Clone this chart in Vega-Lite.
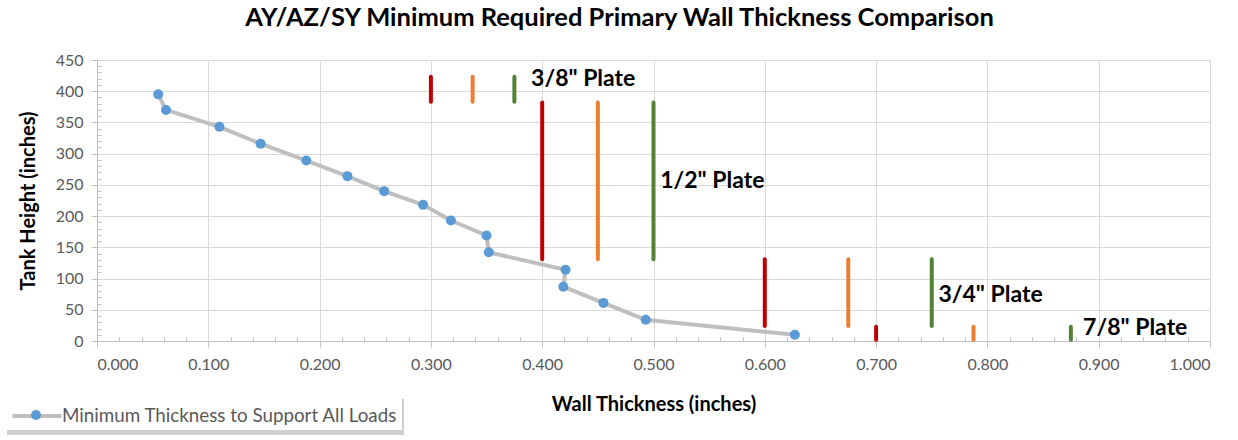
{
  "$schema": "https://vega.github.io/schema/vega-lite/v6.json",
  "width": 1113,
  "height": 281,
  "autosize": {"type": "none"},
  "padding": {"left": 97, "top": 60, "right": 28, "bottom": 99},
  "background": "white",
  "title": {
    "text": "AY/AZ/SY Minimum Required Primary Wall Thickness Comparison",
    "font": "Lato", "fontSize": 25.5, "fontWeight": "bold", "color": "#000000",
    "anchor": "middle", "dx": -34, "offset": 21
  },
  "config": {"view": {"stroke": null}, "font": "Lato"},
  "datasets": {
    "pts": [
      {"i": 1, "t": 0.055, "h": 395},
      {"i": 2, "t": 0.062, "h": 370},
      {"i": 3, "t": 0.110, "h": 343},
      {"i": 4, "t": 0.147, "h": 316},
      {"i": 5, "t": 0.188, "h": 289},
      {"i": 6, "t": 0.225, "h": 264},
      {"i": 7, "t": 0.258, "h": 240},
      {"i": 8, "t": 0.293, "h": 218},
      {"i": 9, "t": 0.318, "h": 193},
      {"i": 10, "t": 0.350, "h": 169},
      {"i": 11, "t": 0.352, "h": 142},
      {"i": 12, "t": 0.421, "h": 114},
      {"i": 13, "t": 0.419, "h": 87},
      {"i": 14, "t": 0.455, "h": 61},
      {"i": 15, "t": 0.493, "h": 34},
      {"i": 16, "t": 0.627, "h": 10}
    ],
    "plates": [
      {"plate": "3/8", "c": "r", "x": 0.3, "lo": 383, "hi": 423},
      {"plate": "3/8", "c": "o", "x": 0.3375, "lo": 383, "hi": 423},
      {"plate": "3/8", "c": "g", "x": 0.375, "lo": 383, "hi": 423},
      {"plate": "1/2", "c": "r", "x": 0.4, "lo": 131, "hi": 382},
      {"plate": "1/2", "c": "o", "x": 0.45, "lo": 131, "hi": 382},
      {"plate": "1/2", "c": "g", "x": 0.5, "lo": 131, "hi": 382},
      {"plate": "3/4", "c": "r", "x": 0.6, "lo": 24, "hi": 131},
      {"plate": "3/4", "c": "o", "x": 0.675, "lo": 24, "hi": 131},
      {"plate": "3/4", "c": "g", "x": 0.75, "lo": 24, "hi": 131},
      {"plate": "7/8", "c": "r", "x": 0.7, "lo": 2, "hi": 23},
      {"plate": "7/8", "c": "o", "x": 0.7875, "lo": 2, "hi": 23},
      {"plate": "7/8", "c": "g", "x": 0.875, "lo": 2, "hi": 23}
    ],
    "labels": [
      {"label": "3/8\" Plate", "x": 0.390, "y": 419},
      {"label": "1/2\" Plate", "x": 0.506, "y": 256},
      {"label": "3/4\" Plate", "x": 0.756, "y": 74},
      {"label": "7/8\" Plate", "x": 0.886, "y": 21}
    ]
  },
  "layer": [
    {
      "data": {"name": "pts"},
      "mark": {"type": "line", "strokeWidth": 4},
      "encoding": {
        "x": {
          "field": "t", "type": "quantitative",
          "scale": {"domain": [0, 1], "nice": false, "zero": true},
          "axis": {
            "orient": "bottom",
            "values": [0, 0.1, 0.2, 0.3, 0.4, 0.5, 0.6, 0.7, 0.8, 0.9, 1.0],
            "format": ".3f",
            "title": "Wall Thickness (inches)",
            "grid": true, "gridColor": "#D9D9D9", "gridWidth": 1,
            "domainColor": "#BFBFBF", "domainWidth": 1,
            "tickColor": "#BFBFBF", "tickSize": 6,
            "labelColor": "#595959", "labelFont": "Lato", "labelFontSize": 16,
            "labelPadding": 9,
            "titleFont": "Lato", "titleFontSize": 20, "titleFontWeight": "bold",
            "titleColor": "#000000", "titlePadding": 22
          }
        },
        "y": {
          "field": "h", "type": "quantitative",
          "scale": {"domain": [0, 450], "nice": false},
          "axis": {
            "orient": "left",
            "values": [0, 50, 100, 150, 200, 250, 300, 350, 400, 450],
            "title": "Tank Height (inches)",
            "grid": true, "gridColor": "#D9D9D9", "gridWidth": 1,
            "domainColor": "#BFBFBF", "domainWidth": 1,
            "tickColor": "#BFBFBF", "tickSize": 6,
            "labelColor": "#595959", "labelFont": "Lato", "labelFontSize": 16,
            "labelPadding": 8,
            "titleFont": "Lato", "titleFontSize": 20, "titleFontWeight": "bold",
            "titleColor": "#000000", "titlePadding": 17
          }
        },
        "order": {"field": "i", "type": "quantitative"},
        "stroke": {
          "datum": "Minimum Thickness to Support All Loads",
          "scale": {"range": ["#BFBFBF"]},
          "legend": {
            "orient": "none", "legendX": -93, "legendY": 336, "zindex": 2,
            "title": null, "symbolType": "M-1.75,0L1.75,0", "symbolSize": 784,
            "symbolOffset": 13, "symbolStrokeWidth": 4,
            "labelFont": "Lato", "labelFontSize": 18.8, "labelLimit": 500,
            "labelColor": "#595959", "labelOffset": 9,
            "fillColor": "white", "padding": 4
          }
        }
      }
    },
    {
      "data": {"name": "pts"},
      "mark": {"type": "point", "filled": true, "size": 100, "opacity": 1},
      "encoding": {
        "x": {
          "field": "t", "type": "quantitative",
          "axis": {
            "orient": "bottom",
            "values": [0.02,0.04,0.06,0.08,0.12,0.14,0.16,0.18,0.22,0.24,0.26,0.28,0.32,0.34,0.36,0.38,0.42,0.44,0.46,0.48,0.52,0.54,0.56,0.58,0.62,0.64,0.66,0.68,0.72,0.74,0.76,0.78,0.82,0.84,0.86,0.88,0.92,0.94,0.96,0.98],
            "labels": false, "title": null, "grid": false, "domain": false,
            "tickColor": "#BFBFBF", "tickSize": -4
          }
        },
        "y": {
          "field": "h", "type": "quantitative",
          "axis": {
            "orient": "left",
            "values": [10,20,30,40,60,70,80,90,110,120,130,140,160,170,180,190,210,220,230,240,260,270,280,290,310,320,330,340,360,370,380,390,410,420,430,440],
            "labels": false, "title": null, "grid": false, "domain": false,
            "tickColor": "#BFBFBF", "tickSize": -4
          }
        },
        "fill": {
          "datum": "pt",
          "scale": {"range": ["#5B9BD5"]},
          "legend": {
            "orient": "none", "legendX": -66, "legendY": 350, "zindex": 3,
            "title": null, "symbolType": "circle", "symbolSize": 100,
            "symbolStrokeWidth": 0, "labelExpr": "''", "padding": 0
          }
        }
      }
    },
    {
      "data": {"name": "plates"},
      "mark": {"type": "rule", "strokeWidth": 4, "strokeCap": "round"},
      "encoding": {
        "x": {"field": "x", "type": "quantitative", "axis": null},
        "y": {"field": "lo", "type": "quantitative", "axis": null},
        "y2": {"field": "hi"},
        "color": {
          "field": "c", "type": "nominal",
          "scale": {"domain": ["r", "o", "g"], "range": ["#C00000", "#ED7D31", "#548235"]},
          "legend": null
        },
        "strokeDash": {
          "datum": "shadow",
          "scale": {"range": [[1, 0]]},
          "legend": {
            "orient": "none", "legendX": -90, "legendY": 158.5, "zindex": 1,
            "title": null, "symbolType": "M-1,-0.0907L1,-0.0907L1,0.0907L-1,0.0907Z",
            "symbolSize": 157609, "symbolStrokeWidth": 0,
            "symbolFillColor": "#CFCFCF", "symbolStrokeColor": "transparent",
            "labelExpr": "''", "labelOffset": 0, "padding": 0,
            "encode": {
              "symbols": {
                "update": {
                  "fill": {"value": "#CFCFCF"},
                  "opacity": {"value": 1},
                  "strokeDash": {"value": [1, 0]}
                }
              }
            }
          }
        }
      }
    },
    {
      "data": {"name": "labels"},
      "mark": {"type": "text", "align": "left", "baseline": "middle", "font": "Lato", "fontSize": 23, "fontWeight": "bold", "color": "#000000"},
      "encoding": {
        "x": {"field": "x", "type": "quantitative", "axis": null},
        "y": {"field": "y", "type": "quantitative", "axis": null},
        "text": {"field": "label"}
      }
    }
  ],
  "resolve": {"axis": {"x": "independent", "y": "independent"}}
}
